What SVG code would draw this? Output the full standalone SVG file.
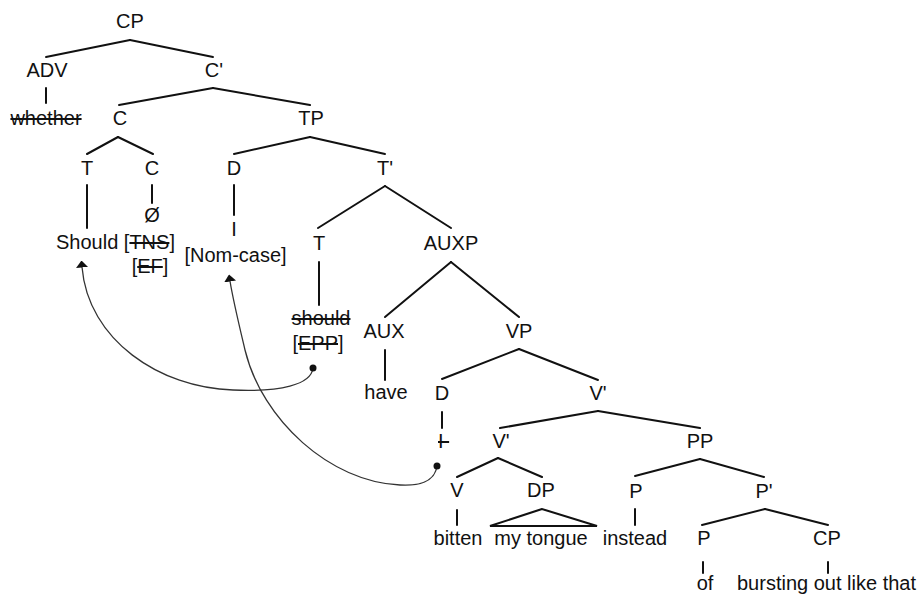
<svg xmlns="http://www.w3.org/2000/svg" width="922" height="601" viewBox="0 0 922 601">
  <style>
    text { font-family: "Liberation Sans", Arial, sans-serif; font-size: 20px; fill: #111; }
    .m { text-anchor: middle; }
    .s { text-decoration: line-through; }
    .branch line, .branch polygon { stroke: #111; stroke-width: 2; fill: none; stroke-linecap: round; }
    .move { stroke: #333; stroke-width: 1.3; fill: none; }
  </style>
  <defs>
    <marker id="head" viewBox="0 0 7 12" refX="0.5" refY="6" markerWidth="7" markerHeight="12" markerUnits="userSpaceOnUse" orient="auto">
      <path d="M0,0 L7,6 L0,12 Z" fill="#111"/>
    </marker>
    <marker id="dot" viewBox="0 0 8 8" refX="4" refY="4" markerWidth="8" markerHeight="8" markerUnits="userSpaceOnUse">
      <circle cx="4" cy="4" r="3.5" fill="#111"/>
    </marker>
  </defs>

  <g id="connectors">
    <g class="branch">
      <line x1="130" y1="40" x2="46" y2="57"/>
      <line x1="130" y1="40" x2="213" y2="57"/>
      <line x1="46" y1="88" x2="46" y2="103"/>
      <line x1="213" y1="88" x2="119" y2="105"/>
      <line x1="213" y1="88" x2="310" y2="105"/>
      <line x1="118" y1="137" x2="87" y2="154"/>
      <line x1="118" y1="137" x2="153" y2="154"/>
      <line x1="87" y1="185" x2="87" y2="228"/>
      <line x1="152" y1="185" x2="152" y2="203"/>
      <line x1="310" y1="137" x2="234" y2="154"/>
      <line x1="310" y1="137" x2="385" y2="154"/>
      <line x1="234" y1="185" x2="234" y2="215"/>
      <line x1="385" y1="186" x2="318" y2="228"/>
      <line x1="385" y1="186" x2="451" y2="228"/>
      <line x1="319" y1="262" x2="319" y2="305"/>
      <line x1="451" y1="262" x2="385" y2="317"/>
      <line x1="451" y1="262" x2="519" y2="317"/>
      <line x1="385" y1="350" x2="385" y2="380"/>
      <line x1="519" y1="349" x2="442" y2="379"/>
      <line x1="519" y1="349" x2="598" y2="380"/>
      <line x1="442" y1="412" x2="442" y2="428"/>
      <line x1="598" y1="411" x2="500" y2="428"/>
      <line x1="598" y1="411" x2="700" y2="428"/>
      <line x1="498" y1="458" x2="457" y2="477"/>
      <line x1="498" y1="458" x2="542" y2="477"/>
      <line x1="457" y1="510" x2="457" y2="525"/>
      <polygon points="542,509 490,526 597,526"/>
      <line x1="700" y1="459" x2="635" y2="476"/>
      <line x1="700" y1="459" x2="764" y2="477"/>
      <line x1="635" y1="509" x2="635" y2="525"/>
      <line x1="765" y1="509" x2="702" y2="525"/>
      <line x1="765" y1="509" x2="828" y2="525"/>
      <line x1="703" y1="562" x2="703" y2="573"/>
      <line x1="828" y1="562" x2="828" y2="573"/>
    </g>
    <!-- movement arrows: T-to-C and subject raising -->
    <path class="move" d="M313,368 C311,385 280,392 233,390 C160,388 88,340 82,267" marker-start="url(#dot)" marker-end="url(#head)"/>
    <path class="move" d="M437,466 C435,482 418,486 400,485 C330,482 262,420 245,350 C241,333 233,300 230,281" marker-start="url(#dot)" marker-end="url(#head)"/>
  </g>

  <g id="cp-top"><text class="m" x="130" y="28">CP</text></g>
  <g id="adv"><text class="m" x="47" y="77">ADV</text></g>
  <g id="whether"><text class="m s" x="46" y="125">whether</text></g>
  <g id="c-bar"><text class="m" x="214" y="77">C'</text></g>
  <g id="c-head"><text class="m" x="120" y="125">C</text></g>
  <g id="tp"><text class="m" x="311" y="125">TP</text></g>
  <g id="t-in-c"><text class="m" x="87" y="175">T</text></g>
  <g id="c-null"><text class="m" x="152" y="175">C</text><text class="m" x="152" y="222">Ø</text></g>
  <g id="should-tns"><text x="56" y="249">Should [<tspan class="s">TNS</tspan>]</text></g>
  <g id="ef"><text class="m" x="150" y="273">[<tspan class="s">EF</tspan>]</text></g>
  <g id="d-subj"><text class="m" x="234" y="175">D</text><text class="m" x="234" y="236">I</text></g>
  <g id="nom-case"><text class="m" x="235.5" y="262">[Nom-case]</text></g>
  <g id="t-bar"><text class="m" x="385" y="175">T'</text></g>
  <g id="t-low"><text class="m" x="319" y="250">T</text></g>
  <g id="auxp"><text class="m" x="451" y="250">AUXP</text></g>
  <g id="should-copy"><text class="m s" x="321" y="325">should</text><text class="m" x="318" y="350">[<tspan class="s">EPP</tspan>]</text></g>
  <g id="aux"><text class="m" x="384" y="338">AUX</text></g>
  <g id="have"><text class="m" x="386" y="399">have</text></g>
  <g id="vp"><text class="m" x="519" y="338">VP</text></g>
  <g id="d-copy"><text class="m" x="442" y="400">D</text><text class="s" x="438" y="448">I&#160;</text></g>
  <g id="v-bar-top"><text class="m" x="598" y="400">V'</text></g>
  <g id="v-bar-low"><text class="m" x="501" y="448">V'</text></g>
  <g id="pp"><text class="m" x="700" y="448">PP</text></g>
  <g id="v"><text class="m" x="457" y="497">V</text><text class="m" x="458" y="545">bitten</text></g>
  <g id="dp"><text class="m" x="541" y="497">DP</text><text class="m" x="541" y="545">my tongue</text></g>
  <g id="p-instead"><text class="m" x="636" y="498">P</text><text class="m" x="635" y="545">instead</text></g>
  <g id="p-bar"><text class="m" x="764" y="498">P'</text></g>
  <g id="p-of"><text class="m" x="704" y="545">P</text><text class="m" x="705" y="590">of</text></g>
  <g id="cp-low"><text class="m" x="827" y="545">CP</text><text x="737" y="590">bursting out like that</text></g>
</svg>
